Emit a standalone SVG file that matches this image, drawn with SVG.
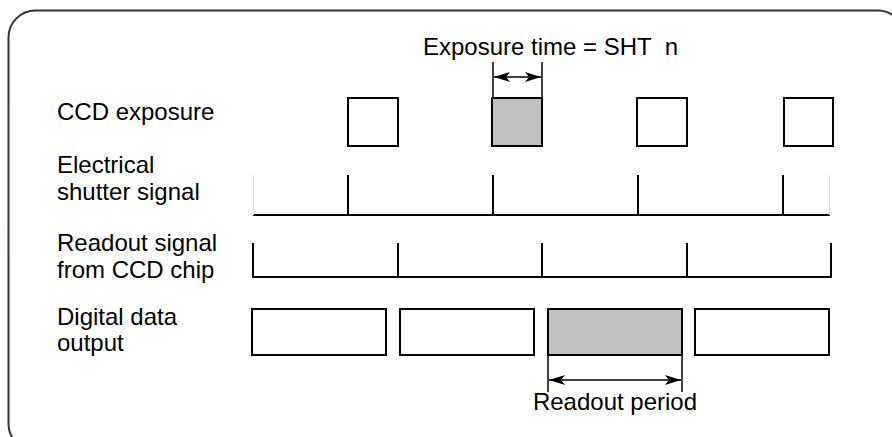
<svg xmlns="http://www.w3.org/2000/svg" width="892" height="437" viewBox="0 0 892 437">
<style>
text{font-family:"Liberation Sans",Arial,sans-serif;font-size:24px;fill:#000}
.box{fill:#fff;stroke:#000;stroke-width:2}
.gray{fill:#c0c0c0;stroke:#000;stroke-width:2}
.ln{stroke:#000;stroke-width:2;fill:none}
.dim{stroke:#000;stroke-width:1.5;fill:none}
</style>
<defs>
<marker id="ah" viewBox="0 0 16 10" refX="16" refY="5" markerWidth="16" markerHeight="10" markerUnits="userSpaceOnUse" orient="auto-start-reverse">
<path d="M0,0 L16,5 L0,10 L4,5 Z" fill="#000"/>
</marker>
</defs>
<rect id="frame" x="8.5" y="10.5" width="896" height="440" rx="27" ry="27" fill="none" stroke="#333" stroke-width="2"/>
<g id="labels">
<text x="57" y="120">CCD exposure</text>
<text x="57" y="173">Electrical</text>
<text x="57" y="200">shutter signal</text>
<text x="57" y="251">Readout signal</text>
<text x="57" y="278">from CCD chip</text>
<text x="57" y="325">Digital data</text>
<text x="57" y="351">output</text>
</g>
<g id="exposure">
<rect class="box" x="348" y="98" width="50" height="48"/>
<rect class="gray" x="492" y="98" width="50" height="48"/>
<rect class="box" x="637" y="98" width="50" height="48"/>
<rect class="box" x="784" y="98" width="49" height="48"/>
</g>
<g id="shutter">
<path class="ln" d="M253,215 H830 M348,175 V215 M493,175 V215 M638,175 V215 M783,175 V215"/>
<path d="M253.5,175 V215 M829.5,175 V215" stroke="#ddd" stroke-width="1"/>
</g>
<g id="readout">
<path class="ln" d="M253,243 V277 H831 V243 M398,243 V277 M542,243 V277 M687,243 V277"/>
</g>
<g id="digital">
<rect class="box" x="252" y="309" width="134" height="46"/>
<rect class="box" x="400" y="309" width="134" height="46"/>
<rect class="gray" x="548" y="309" width="134" height="46"/>
<rect class="box" x="695" y="309" width="134" height="46"/>
</g>
<g id="connectors">
<path class="dim" d="M493,62 V98 M542,62 V98"/>
<line class="dim" x1="494" y1="77" x2="541" y2="77" marker-start="url(#ah)" marker-end="url(#ah)"/>
<path class="dim" d="M548,355 V392 M682,355 V392"/>
<line class="dim" x1="549" y1="380" x2="681" y2="380" marker-start="url(#ah)" marker-end="url(#ah)"/>
</g>
<g id="dimlabels">
<text x="423" y="55" xml:space="preserve">Exposure time = SHT  n</text>
<text x="615" y="410" text-anchor="middle">Readout period</text>
</g>
</svg>
